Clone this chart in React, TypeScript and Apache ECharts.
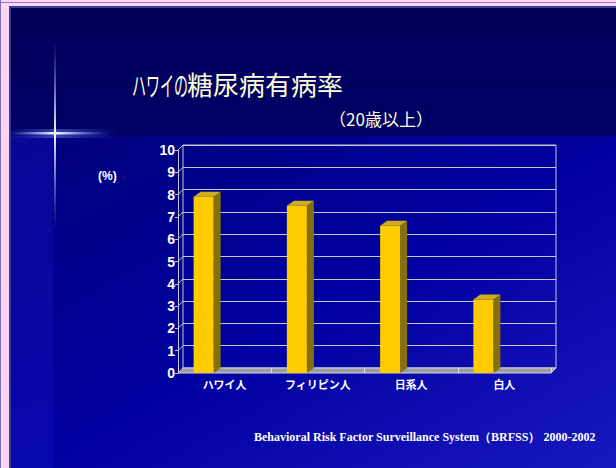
import React, { useEffect, useRef } from "react";
import * as echarts from "echarts";

const categories = ["ハワイ人", "フィリピン人", "日系人", "白人"];
const prevalence = [7.9, 7.5, 6.6, 3.3];
const yTicks = [0, 1, 2, 3, 4, 5, 6, 7, 8, 9, 10];
const yMin = 0;
const yMax = 10;
const yInterval = 1;
const titleKana = "ハワイの";
const titleKanji = "糖尿病有病率";
const subtitleText = "（20歳以上）";
const unitText = "(%)";
const sourceText = "Behavioral Risk Factor Surveillance System（BRFSS） 2000-2002";

const W = 616;
const H = 468;
const DX = 5;
const DY = 5;

export default function App() {
  const ref = useRef<HTMLDivElement>(null);
  useEffect(() => {
    document.body.style.margin = "0";
    if (!ref.current) return;
    const chart = echarts.init(ref.current, null, { renderer: "svg" });
    const frontGrid = { left: 178, top: 150, width: 373, height: 223 };
    const backGrid = {
      left: frontGrid.left + DX,
      top: frontGrid.top - DY,
      width: frontGrid.width,
      height: frontGrid.height,
    };
    const option: any = {
      animation: false,
      backgroundColor: "#ffd4f4",
      grid: [
        { ...frontGrid, show: false },
        {
          ...backGrid,
          show: true,
          borderColor: "#c4c4d0",
          borderWidth: 1,
          backgroundColor: "transparent",
        },
      ],
      xAxis: [
        {
          type: "category",
          gridIndex: 0,
          data: categories,
          axisLine: { show: false },
          axisTick: { show: true, inside: true, length: 5, lineStyle: { color: "#e0e0e0" } },
          axisLabel: {
            color: "#ffffff",
            fontSize: 11,
            fontWeight: "bold",
            fontFamily: "Noto Sans CJK JP",
            margin: 5,
          },
          z: 5,
        },
        {
          type: "category",
          gridIndex: 1,
          data: categories,
          show: false,
        },
      ],
      yAxis: [
        {
          type: "value",
          gridIndex: 0,
          min: yMin,
          max: yMax,
          interval: yInterval,
          axisLine: { show: true, lineStyle: { color: "#c4c4d0" } },
          axisTick: { show: true, length: 3, lineStyle: { color: "#c4c4d0" } },
          splitLine: { show: false },
          axisLabel: {
            color: "#ffffff",
            fontSize: 14,
            fontWeight: "bold",
            fontFamily: "Liberation Sans",
            margin: 3,
          },
        },
        {
          type: "value",
          gridIndex: 1,
          min: yMin,
          max: yMax,
          interval: yInterval,
          axisLine: { show: false },
          axisTick: { show: false },
          axisLabel: { show: false },
          splitLine: { show: true, lineStyle: { color: "#c8c8d4", width: 1 } },
        },
      ],
      series: [
        {
          type: "custom",
          name: "floor",
          xAxisIndex: 0,
          yAxisIndex: 0,
          z: 2,
          silent: true,
          data: [[0, yMin]],
          renderItem: (params: any, api: any) => {
            const cs = params.coordSys;
            const y0 = api.coord([0, api.value(1)])[1];
            return {
              type: "polygon",
              shape: {
                points: [
                  [cs.x, y0],
                  [cs.x + cs.width, y0],
                  [cs.x + cs.width + DX, y0 - DY],
                  [cs.x + DX, y0 - DY],
                ],
              },
              style: { fill: "#9c9ca4", stroke: "#d4d4dc", lineWidth: 1 },
            };
          },
        },
        {
          type: "custom",
          name: "wallTicks",
          xAxisIndex: 0,
          yAxisIndex: 0,
          z: 2,
          silent: true,
          data: yTicks.map((v) => [0, v]),
          renderItem: (params: any, api: any) => {
            const cs = params.coordSys;
            const y = api.coord([0, api.value(1)])[1];
            return {
              type: "line",
              shape: { x1: cs.x, y1: y, x2: cs.x + DX, y2: y - DY },
              style: { stroke: "#c4c4d0", lineWidth: 1 },
            };
          },
        },
        {
          type: "custom",
          name: "有病率",
          xAxisIndex: 0,
          yAxisIndex: 0,
          z: 4,
          data: prevalence.map((v, i) => [i, v]),
          encode: { x: 0, y: 1 },
          renderItem: (params: any, api: any) => {
            const i = api.value(0);
            const v = api.value(1);
            const base = api.coord([i, 0]);
            const top = api.coord([i, v]);
            const cx = base[0];
            const y0 = base[1];
            const y1 = top[1];
            const L = cx - 31;
            const R = cx - 11;
            const bx = 7;
            const by = 5;
            return {
              type: "group",
              children: [
                {
                  type: "polygon",
                  shape: {
                    points: [
                      [R, y1],
                      [R + bx, y1 - by],
                      [R + bx, y0 - by],
                      [R, y0],
                    ],
                  },
                  style: { fill: "#86700c" },
                },
                {
                  type: "polygon",
                  shape: {
                    points: [
                      [L, y1],
                      [R, y1],
                      [R + bx, y1 - by],
                      [L + bx, y1 - by],
                    ],
                  },
                  style: { fill: "#cfae1e" },
                },
                {
                  type: "rect",
                  shape: { x: L, y: y1, width: R - L, height: y0 - y1 },
                  style: { fill: "#ffcc00" },
                },
              ],
            };
          },
        },
      ],
      graphic: [
        { type: "rect", z: -20, silent: true, shape: { x: 0, y: 2, width: W, height: 1 }, style: { fill: "#8c78c8" } },
        { type: "rect", z: -20, silent: true, shape: { x: 0, y: 0, width: 1, height: H }, style: { fill: "#7c70c0" } },
        { type: "rect", z: -20, silent: true, shape: { x: 9, y: 6, width: W - 9, height: H - 6 }, style: { fill: "#3a3a9a" } },
        {
          type: "rect",
          z: -19,
          silent: true,
          shape: { x: 11, y: 8, width: W - 11, height: 128 },
          style: {
            fill: new echarts.graphic.LinearGradient(0, 0, 0, 1, [
              { offset: 0, color: "#00005a" },
              { offset: 1, color: "#000066" },
            ]),
          },
        },
        {
          type: "rect",
          z: -19,
          silent: true,
          shape: { x: 11, y: 136, width: W - 11, height: H - 136 },
          style: {
            fill: new echarts.graphic.LinearGradient(0, 0, 1, 1, [
              { offset: 0, color: "#00007a" },
              { offset: 0.5, color: "#0000a0" },
              { offset: 1, color: "#1818c0" },
            ]),
          },
        },
        {
          type: "rect",
          z: -18,
          silent: true,
          shape: { x: 11, y: 136, width: 42, height: H - 136 },
          style: { fill: "rgba(20,20,200,0.35)" },
        },
        {
          type: "rect",
          z: -17,
          silent: true,
          shape: { x: 8, y: 129, width: 110, height: 9 },
          style: {
            fill: new echarts.graphic.LinearGradient(0, 0, 1, 0, [
              { offset: 0, color: "rgba(80,110,255,0)" },
              { offset: 0.43, color: "rgba(120,150,255,0.45)" },
              { offset: 1, color: "rgba(80,110,255,0)" },
            ]),
          },
        },
        {
          type: "rect",
          z: -16,
          silent: true,
          shape: { x: 8, y: 132, width: 100, height: 2.5 },
          style: {
            fill: new echarts.graphic.LinearGradient(0, 0, 1, 0, [
              { offset: 0, color: "rgba(120,150,255,0)" },
              { offset: 0.47, color: "rgba(255,255,255,1)" },
              { offset: 1, color: "rgba(120,150,255,0)" },
            ]),
          },
        },
        {
          type: "rect",
          z: -16,
          silent: true,
          shape: { x: 54, y: 40, width: 2, height: 190 },
          style: {
            fill: new echarts.graphic.LinearGradient(0, 0, 0, 1, [
              { offset: 0, color: "rgba(120,150,255,0)" },
              { offset: 0.49, color: "rgba(255,255,255,1)" },
              { offset: 1, color: "rgba(120,150,255,0)" },
            ]),
          },
        },
        {
          type: "text",
          z: 10,
          x: 132,
          y: 84,
          scaleX: 0.52,
          style: {
            text: titleKana,
            fill: "#ffffd8",
            fontSize: 27,
            fontFamily: "Noto Sans CJK JP",
            verticalAlign: "middle",
            align: "left",
          },
        },
        {
          type: "text",
          z: 10,
          x: 187,
          y: 83,
          style: {
            text: titleKanji,
            fill: "#ffffd8",
            fontSize: 26,
            fontFamily: "Noto Sans CJK JP",
            verticalAlign: "middle",
            align: "left",
          },
        },
        {
          type: "text",
          z: 10,
          x: 381,
          y: 118,
          style: {
            text: subtitleText,
            fill: "#ffffd8",
            fontSize: 17,
            fontFamily: "Noto Sans CJK JP",
            verticalAlign: "middle",
            align: "center",
          },
        },
        {
          type: "text",
          z: 10,
          x: 98,
          y: 176,
          style: {
            text: unitText,
            fill: "#ffffff",
            fontSize: 12,
            fontWeight: "bold",
            fontFamily: "Liberation Sans",
            verticalAlign: "middle",
            align: "left",
          },
        },
        {
          type: "text",
          z: 10,
          x: 254,
          y: 437,
          style: {
            text: sourceText,
            fill: "#ffffff",
            fontSize: 12,
            fontWeight: "bold",
            fontFamily: "Liberation Serif",
            verticalAlign: "middle",
            align: "left",
          },
        },
      ],
    };
    chart.setOption(option);
    return () => chart.dispose();
  }, []);
  return <div ref={ref} style={{ width: W, height: H }} />;
}
